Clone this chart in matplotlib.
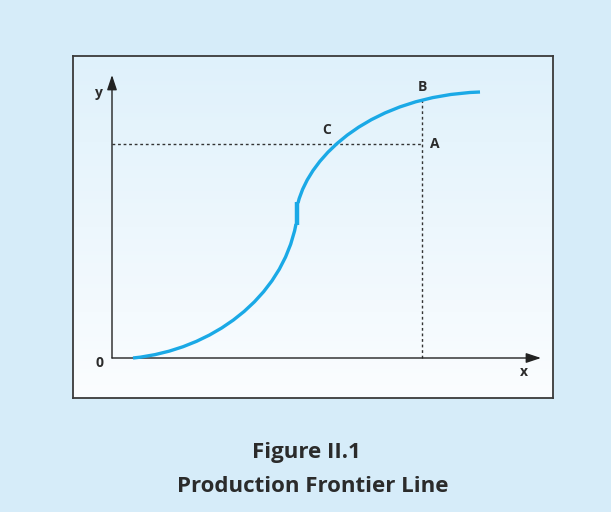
import matplotlib.pyplot as plt
import numpy as np
from matplotlib.path import Path
from matplotlib.patches import PathPatch
from matplotlib.colors import LinearSegmentedColormap

plt.rcParams['font.family'] = ['Open Sans', 'DejaVu Sans']

# S-curve as two cubic bezier pieces (start, control, control, end)
lower_pts = [(21, 0), (100, 8), (170, 60), (184, 134)]
upper_pts = [(186, 155), (198, 203), (260, 262), (368, 266)]
kink_x = [185, 185]
kink_y = [133, 156]

point_A = (310, 214)
point_B = (310, 259)
point_C = (215, 214)

curve_color = '#1aa9e6'
text_color = '#2b2b2b'

fig = plt.figure(figsize=(6.11, 5.12), dpi=100, facecolor='#d6ecf9')
ax = fig.add_axes([73 / 611, 1 - 398 / 512, 480 / 611, 342 / 512])
ax.set_xlim(-39, 441)
ax.set_ylim(-40, 302)

# light gradient inside the box
grad = np.linspace(0, 1, 256).reshape(-1, 1)
cmap = LinearSegmentedColormap.from_list('bg', ['#fbfdff', '#dff1fb'])
ax.imshow(grad, extent=(-39, 441, -40, 302), origin='lower', cmap=cmap, aspect='auto', zorder=0)

for s in ax.spines.values():
    s.set_color('#3a3a3a')
    s.set_linewidth(1.3)
ax.set_xticks([])
ax.set_yticks([])

# axes with arrows
arrow = dict(arrowstyle='-|>,head_length=0.9,head_width=0.3', color='#222222', lw=1.0, shrinkA=0, shrinkB=0)
ax.annotate('', xy=(429, 0), xytext=(0, 0), arrowprops=arrow)
ax.annotate('', xy=(0, 283), xytext=(0, 0), arrowprops=arrow)

# dotted guide lines
ax.plot([0, point_A[0]], [point_A[1], point_A[1]], ls=(0, (2, 2)), color='#333333', lw=1.0)
ax.plot([point_B[0], point_B[0]], [0, point_B[1]], ls=(0, (2, 2)), color='#333333', lw=1.0)

# curve
codes = [Path.MOVETO, Path.CURVE4, Path.CURVE4, Path.CURVE4]
for pts in (lower_pts, upper_pts):
    ax.add_patch(PathPatch(Path(pts, codes), facecolor='none', edgecolor=curve_color,
                           lw=2.4, capstyle='butt', zorder=3))
ax.plot(kink_x, kink_y, color=curve_color, lw=3.2, solid_capstyle='butt', zorder=3)

lab = dict(fontsize=10, fontweight='bold', color=text_color, ha='center', va='center')
ax.text(-13, 265, 'y', **lab)
ax.text(-13, -5, '0', **lab)
ax.text(412, -14, 'x', **lab)
ax.text(point_B[0], 271, 'B', **lab)
ax.text(point_C[0], 228, 'C', **lab)
ax.text(323, point_A[1], 'A', **lab)

fig.text(306 / 611, 1 - 458 / 512, 'Figure II.1', fontsize=16, fontweight='bold', color=text_color, ha='center', va='baseline')
fig.text(313 / 611, 1 - 492 / 512, 'Production Frontier Line', fontsize=16, fontweight='bold', color=text_color, ha='center', va='baseline')

fig.savefig('out.png', dpi=100, facecolor=fig.get_facecolor())
